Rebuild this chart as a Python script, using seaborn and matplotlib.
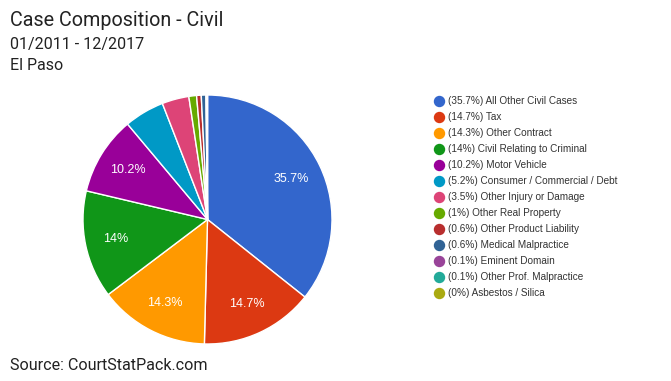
import matplotlib
matplotlib.use("Agg")
import matplotlib.pyplot as plt
import seaborn as sns

# Data
categories = [
    "All Other Civil Cases", "Tax", "Other Contract", "Civil Relating to Criminal",
    "Motor Vehicle", "Consumer / Commercial / Debt", "Other Injury or Damage",
    "Other Real Property", "Other Product Liability", "Medical Malpractice",
    "Eminent Domain", "Other Prof. Malpractice", "Asbestos / Silica",
]
shares = [35.7, 14.7, 14.3, 14, 10.2, 5.2, 3.5, 1, 0.6, 0.6, 0.1, 0.1, 0]
colors = [
    "#3366cc", "#dc3912", "#ff9900", "#109618", "#990099", "#0099c6", "#dd4477",
    "#66aa00", "#b82e2e", "#316395", "#994499", "#22aa99", "#aaaa11",
]

title = "Case Composition - Civil"
subtitle = ["01/2011 - 12/2017", "El Paso"]
source = "Source: CourtStatPack.com"

sns.set_theme(style="white")
plt.rcParams["font.family"] = ["Roboto", "DejaVu Sans"]

W, H = 671, 381
fig = plt.figure(figsize=(W / 100, H / 100), dpi=100)

# pie axes: centre ~(207.5, 219.5) px, radius ~124.5 px
ax = fig.add_axes([83 / W, (H - 344) / H, 249 / W, 249 / H])


def fmt_pct(p):
    # Google Charts only labels the larger slices
    if p < 8:
        return ""
    return f"{p:.1f}".rstrip("0").rstrip(".") + "%"


wedges, _, autotexts = ax.pie(
    shares,
    colors=colors,
    startangle=90,
    counterclock=False,
    autopct=fmt_pct,
    pctdistance=0.75,
    radius=1,
    wedgeprops=dict(edgecolor="white", linewidth=1),
)
for t in autotexts:
    t.set_color("white")
    t.set_fontsize(9)
    t.set_fontfamily(["Liberation Sans", "DejaVu Sans"])
ax.set_xlim(-1, 1)
ax.set_ylim(-1, 1)
ax.set_aspect("equal")
ax.axis("off")

# titles
fig.text(10 / W, 1 - 20 / H, title, fontsize=14.2, color="#222222", va="center", ha="left")
fig.text(10 / W, 1 - 45 / H, subtitle[0], fontsize=11.5, color="#222222", va="center", ha="left")
fig.text(10 / W, 1 - 66 / H, subtitle[1], fontsize=11.5, color="#222222", va="center", ha="left")
fig.text(10 / W, 1 - 366 / H, source, fontsize=11.6, color="#222222", va="center", ha="left")

# legend drawn as a column of dots and labels
y0, step = 100.5, 16
for i, (cat, val, col) in enumerate(zip(categories, shares, colors)):
    y = 1 - (y0 + i * step) / H
    fig.lines.append(plt.Line2D([439 / W], [y], marker="o", markersize=7.2,
                                color=col, transform=fig.transFigure))
    label = f"({val:g}%) {cat}"
    fig.text(448.5 / W, y, label, fontsize=7.2, color="#333333", va="center", ha="left",
             family=["Liberation Sans", "DejaVu Sans"])

fig.savefig("out.png", dpi=100, facecolor="white")
